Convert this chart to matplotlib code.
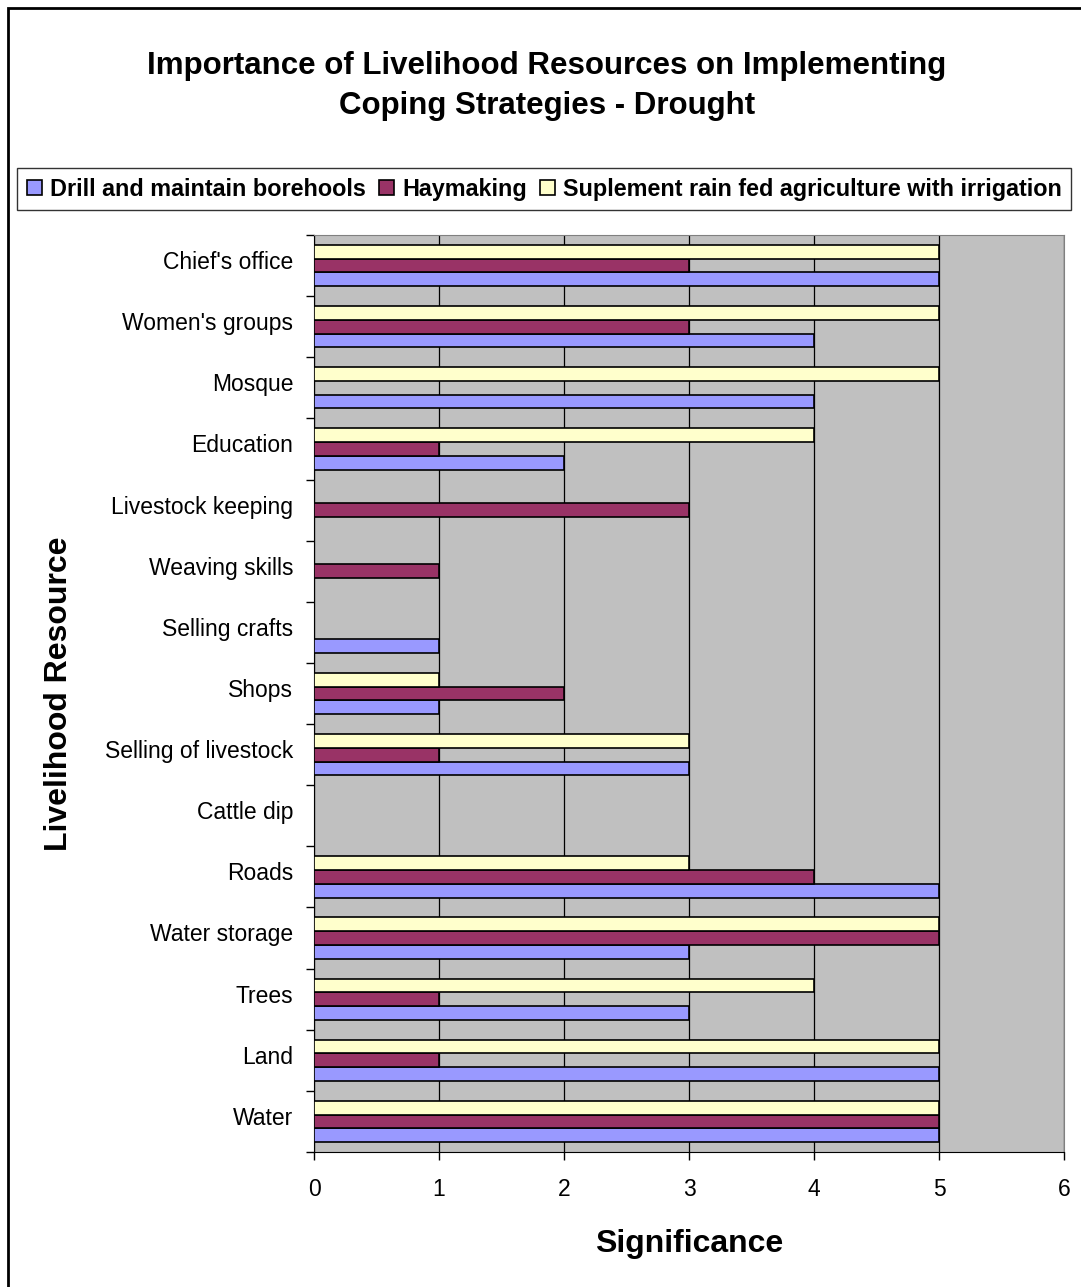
import numpy as np
import matplotlib.pyplot as plt
from matplotlib.patches import Rectangle
from matplotlib.transforms import ScaledTranslation

plt.rcParams['font.family'] = ['Liberation Sans', 'DejaVu Sans']

# categories from bottom to top
resources = ['Water', 'Land', 'Trees', 'Water storage', 'Roads', 'Cattle dip',
             'Selling of livestock', 'Shops', 'Selling crafts', 'Weaving skills',
             'Livestock keeping', 'Education', 'Mosque', "Women's groups", "Chief's office"]
drill = [5, 5, 3, 3, 5, 0, 3, 1, 1, 0, 0, 2, 4, 4, 5]
haymaking = [5, 1, 1, 5, 4, 0, 1, 2, 0, 1, 3, 1, 0, 3, 3]
suplement = [5, 5, 4, 5, 3, 0, 3, 1, 0, 0, 0, 4, 5, 5, 5]

series_names = ['Drill and maintain borehools', 'Haymaking',
                'Suplement rain fed agriculture with irrigation']
colors = ['#9999FF', '#993366', '#FFFFCC']

fig = plt.figure(figsize=(10.81, 12.87), dpi=100)
ax = fig.add_axes([0.2905, 0.1049, 0.6938, 0.7125])

y = np.arange(len(resources))
h = 0.225
for i, (vals, c, name) in enumerate(zip([drill, haymaking, suplement], colors, series_names)):
    ax.barh(y + (i - 1) * h, vals, height=h, color=c, edgecolor='black',
            linewidth=1.2, label=name, zorder=3)

ax.set_facecolor('#C0C0C0')
ax.set_xlim(0, 6)
ax.set_ylim(-0.5, len(resources) - 0.5)
ax.set_xticks(range(7))
ax.set_yticks(y)
ax.set_yticklabels(resources)
ax.set_yticks(np.arange(-0.5, len(resources), 1), minor=True)
ax.tick_params(axis='y', which='major', length=0, pad=15, labelsize=16.5)
ax.tick_params(axis='y', which='minor', length=6, width=1)
ax.tick_params(axis='x', length=6, width=1, pad=13, labelsize=16.5)
ax.grid(axis='x', color='black', linewidth=0.9, zorder=1)

# category labels sit a little above the group centre
shift = ScaledTranslation(0, 4 / 72, fig.dpi_scale_trans)
for lab in ax.get_yticklabels():
    lab.set_transform(lab.get_transform() + shift)

for s in ['top', 'right']:
    ax.spines[s].set_color('#808080')
for s in ['left', 'bottom']:
    ax.spines[s].set_color('black')

ax.set_xlabel('Significance', fontsize=23, fontweight='bold', labelpad=20)
ax.set_ylabel('Livelihood Resource', fontsize=23, fontweight='bold', labelpad=22)

fig.text(0.506, 0.933, 'Importance of Livelihood Resources on Implementing\nCoping Strategies - Drought',
         ha='center', va='center', fontsize=22.5, fontweight='bold', linespacing=1.45)

leg = fig.legend(loc='center', bbox_to_anchor=(0.5035, 0.853), ncol=3,
                 prop={'weight': 'bold', 'size': 16.8}, frameon=True, fancybox=False,
                 edgecolor='black', handlelength=0.65, handleheight=0.65,
                 handletextpad=0.35, columnspacing=0.55, borderpad=0.4)
leg.get_frame().set_linewidth(1.0)

fig.patches.append(Rectangle((0.0074, -0.01), 1.1, 1.0038, transform=fig.transFigure,
                             fill=False, edgecolor='black', linewidth=2))

fig.savefig('out.png', dpi=100)
